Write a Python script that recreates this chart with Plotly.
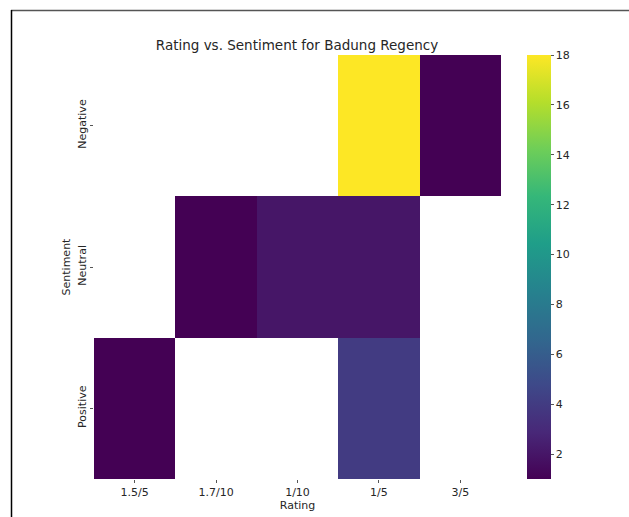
import plotly.graph_objects as go

# Rating categories (columns) and sentiment categories (rows)
ratings = ["1.5/5", "1.7/10", "1/10", "1/5", "3/5"]
sentiments = ["Negative", "Neutral", "Positive"]

# Review counts per (sentiment, rating); None = no reviews
negative_counts = [None, None, None, 18, 1]
neutral_counts = [None, 1, 2, 2, None]
positive_counts = [1, None, None, 4, None]

counts = [negative_counts, neutral_counts, positive_counts]

W, H = 629, 517
L, R, T, B = 94, 501, 55, 479  # plot area in pixels
pw, ph = R - L, B - T

def px_x(p):
    return (p - L) / pw

def px_y(p):
    return (B - p) / ph

font = "DejaVu Sans, Verdana, sans-serif"
txt = "#262626"

fig = go.Figure(
    go.Heatmap(
        x=ratings,
        y=sentiments,
        z=counts,
        colorscale="Viridis",
        zmin=1,
        zmax=18,
        hoverongaps=False,
        colorbar=dict(
            x=px_x(527),
            xanchor="left",
            xpad=0,
            ypad=0,
            y=0,
            yanchor="bottom",
            len=1,
            lenmode="fraction",
            thickness=24,
            thicknessmode="pixels",
            outlinewidth=0,
            tickvals=[2, 4, 6, 8, 10, 12, 14, 16, 18],
            ticks="outside",
            ticklen=3,
            tickwidth=1,
            tickcolor="#555555",
            tickfont=dict(family=font, size=11, color=txt),
        ),
    )
)

fig.update_layout(
    width=W,
    height=H,
    margin=dict(l=L, r=W - R, t=T, b=H - B, autoexpand=False),
    paper_bgcolor="white",
    plot_bgcolor="white",
    title=dict(
        text="Rating vs. Sentiment for Badung Regency",
        x=297 / W,
        xref="container",
        xanchor="center",
        y=1 - 45 / H,
        yref="container",
        yanchor="middle",
        font=dict(family=font, size=13.5, color=txt),
    ),
    xaxis=dict(
        title=dict(text="Rating", font=dict(family=font, size=11, color=txt), standoff=3),
        automargin=False,
        showgrid=False,
        zeroline=False,
        ticks="outside",
        ticklen=3,
        tickcolor="#555555",
        tickfont=dict(family=font, size=11, color=txt),
        showline=False,
    ),
    yaxis=dict(
        title=dict(text="Sentiment", font=dict(family=font, size=11, color=txt), standoff=2),
        automargin=False,
        autorange="reversed",
        showgrid=False,
        zeroline=False,
        ticks="outside",
        ticklen=3,
        tickcolor="#555555",
        tickangle=-90,
        tickfont=dict(family=font, size=11, color=txt),
        showline=False,
    ),
    shapes=[
        # frame around the figure: top and left edges
        dict(type="line", xref="paper", yref="paper",
             x0=px_x(11), x1=px_x(629), y0=px_y(10.5), y1=px_y(10.5),
             line=dict(color="#555555", width=1.5)),
        dict(type="line", xref="paper", yref="paper",
             x0=px_x(11.5), x1=px_x(11.5), y0=px_y(10), y1=px_y(517),
             line=dict(color="#000000", width=1.5)),
    ],
)

fig.write_html("out.html")
